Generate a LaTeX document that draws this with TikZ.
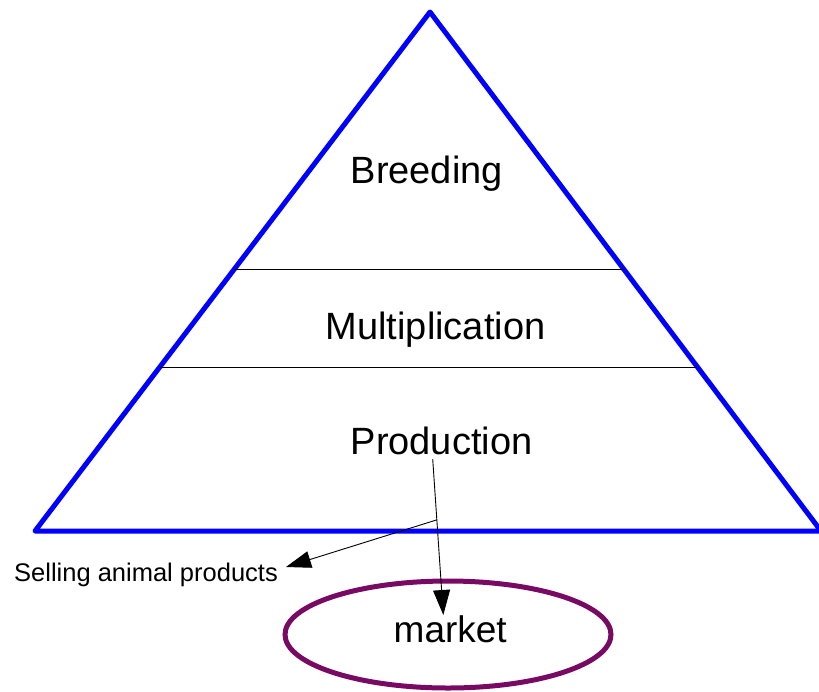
\documentclass[tikz,border=0pt]{standalone}
\usepackage{fontspec}
\setmainfont{Liberation Sans}
\usetikzlibrary{calc,arrows.meta,shapes.geometric}
\definecolor{mktpurple}{RGB}{120,10,100}
\tikzset{
  big/.style={font=\fontsize{38}{44}\selectfont, inner sep=0pt, anchor=base west},
  small/.style={font=\fontsize{25.5}{30}\selectfont, inner sep=0pt, anchor=base west},
  tri/.style={draw=blue, line width=5pt, line join=round},
  divider/.style={draw=black, line width=0.9pt},
  conn/.style={draw=black, line width=0.9pt, -{Triangle[length=25pt,width=17pt]}},
}
\begin{document}
\begin{tikzpicture}[x=1pt,y=-1pt]
\useasboundingbox (0,0) rectangle (819,691);
\coordinate (apex) at (430,12);
\coordinate (bl) at (35,531);
\coordinate (br) at (821,531);
\draw[tri] (apex) -- (br) -- (bl) -- cycle;
\draw[divider] ($(apex)!0.4952!(bl)$) -- ($(apex)!0.4952!(br)$);
\draw[divider] ($(apex)!0.684!(bl)$) -- ($(apex)!0.684!(br)$);
\node[big] (breed) at (350.5,183.3) {Breeding};
\node[big] (mult) at (325.5,339.3) {Multiplication};
\node[big] (prod) at (350.5,454.3) {Production};
\node[small] (sell) at (14,581.7) {Selling animal products};
\node[draw=mktpurple, line width=5pt, ellipse, minimum width=326pt, minimum height=107pt, inner sep=0pt] (mkt) at (448,634.5) {};
\node[big, font=\fontsize{37}{44}\selectfont] (mktlabel) at (393.5,642.3) {market};
\coordinate (p1) at (432.7,459);
\coordinate (tip1) at (443.3,615);
\coordinate (branch) at ($(p1)!0.39!(tip1)$);
\coordinate (tip2) at (286,567);
\draw[conn] (p1) -- (tip1);
\draw[conn] (branch) -- (tip2);
\end{tikzpicture}
\end{document}
